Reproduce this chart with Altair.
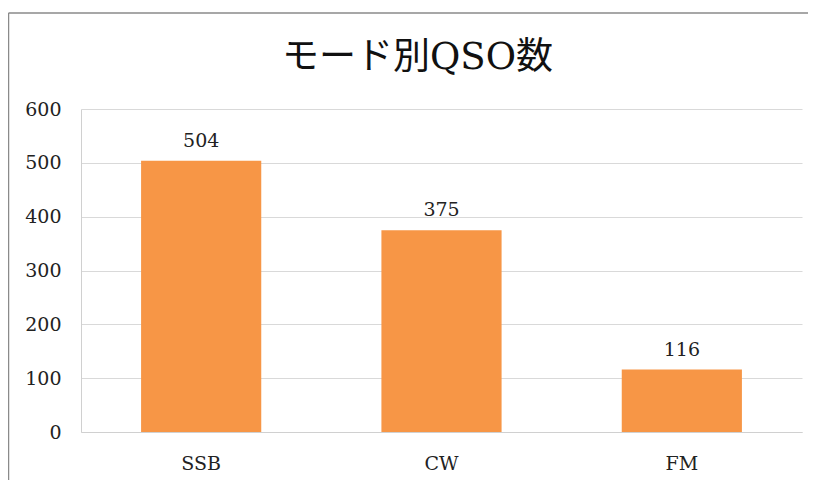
import altair as alt
import pandas as pd

modes = ["SSB", "CW", "FM"]
counts = [504, 375, 116]
y_ticks = [0, 100, 200, 300, 400, 500, 600]

df = pd.DataFrame({"mode": modes, "count": counts})

FONT = "DejaVu Serif, Noto Sans CJK JP"

base = alt.Chart(df)

bars = base.mark_bar(color="#F79646").encode(
    x=alt.X("mode:N", sort=modes,
            scale=alt.Scale(paddingInner=0.5, paddingOuter=0.25),
            axis=alt.Axis(title=None, labelAngle=0, ticks=False, domain=True,
                          grid=False,
                          domainColor="#d0d0d0", labelPadding=22,
                          labelFontSize=19, labelFont=FONT, labelColor="#222")),
    y=alt.Y("count:Q", scale=alt.Scale(domain=[0, 600], nice=False),
            axis=alt.Axis(title=None, values=y_ticks, ticks=False, domain=True,
                          grid=True,
                          domainColor="#d0d0d0", gridColor="#d9d9d9",
                          labelPadding=20, labelFontSize=19, labelFont=FONT,
                          labelColor="#222")),
)

labels = base.mark_text(baseline="bottom", dy=-10, fontSize=19, font=FONT,
                        color="#222").encode(
    x=alt.X("mode:N", sort=modes),
    y=alt.Y("count:Q"),
    text=alt.Text("count:Q"),
)

border_left = alt.Chart(pd.DataFrame({"a": [0]})).mark_rule(
    color="#8a8a8a", strokeWidth=1.5).encode(
    x=alt.value(-72.5), y=alt.value(-96), y2=alt.value(400))
border_top = alt.Chart(pd.DataFrame({"a": [0]})).mark_rule(
    color="#8a8a8a", strokeWidth=1.5).encode(
    x=alt.value(-72.5), x2=alt.value(740), y=alt.value(-96))

chart = alt.layer(bars, labels, border_left, border_top).properties(
    width=721,
    height=323,
    autosize=alt.AutoSizeParams(type="none"),
    padding={"left": 73, "top": 101, "right": 6, "bottom": 48},
    title=alt.TitleParams(text="モード別QSO数", fontSize=37, font=FONT,
                          fontWeight="normal", color="#111", anchor="middle",
                          dx=-24, offset=-65),
).configure_view(stroke=None)

chart.save("out.html", embed_options={"renderer": "svg", "actions": False})
